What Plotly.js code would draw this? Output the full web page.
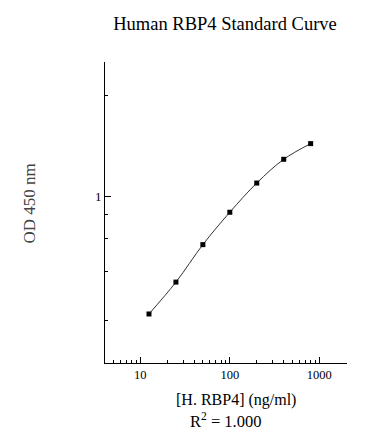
<!DOCTYPE html>
<html>
<head>
<meta charset="utf-8">
<script src="https://cdn.plot.ly/plotly-3.0.1.min.js"></script>
<style>html,body{margin:0;padding:0;background:#fff;}#chart{width:388px;height:444px;}</style>
</head>
<body>
<div id="chart"></div>
<script>
// Data
const concentrations = [12.5, 25, 50, 100, 200, 400, 800];      // ng/ml
const odValues       = [0.232, 0.345, 0.550, 0.823, 1.184, 1.591, 1.934];
const xTickVals  = [10, 100, 1000];
const xTickText  = ["10", "100", "1000"];
const xMinorVals = [5, 6, 7, 8, 9, 20, 30, 40, 50, 60, 70, 80, 90, 200, 300, 400, 500, 600, 700, 800, 900, 2000];
const yTickVals  = [1];
const yTickText  = ["1"];
const yMinorVals = [0.215, 0.395, 0.59, 0.8, 3.5];

const serif = "Liberation Serif, Times New Roman, serif";

const trace = {
  x: concentrations,
  y: odValues,
  type: "scatter",
  mode: "lines+markers",
  line: {shape: "spline", color: "#333", width: 1},
  marker: {symbol: "square", size: 5, color: "#000"},
  hoverinfo: "skip"
};

const layout = {
  width: 388, height: 444,
  margin: {l: 105, r: 41, t: 62, b: 81, pad: 0},
  paper_bgcolor: "#fff", plot_bgcolor: "#fff",
  showlegend: false,
  font: {family: serif, color: "#000", size: 12},
  title: {
    text: "Human RBP4 Standard Curve",
    font: {family: serif, size: 18.5, color: "#000"},
    xref: "container", x: 225/388, xanchor: "center",
    yref: "container", y: 1 - 24/444, yanchor: "middle"
  },
  xaxis: {
    type: "log",
    range: [0.6056, 3.309],
    showline: true, linecolor: "#000", linewidth: 1,
    showgrid: false, zeroline: false,
    tickmode: "array", tickvals: xTickVals, ticktext: xTickText,
    ticks: "inside", ticklen: 6, tickcolor: "#000", tickwidth: 1,
    tickfont: {family: serif, size: 12.5, color: "#000"},
    minor: {tickmode: "array", tickvals: xMinorVals, ticks: "inside", ticklen: 3, tickcolor: "#000", tickwidth: 1, showgrid: false}
  },
  yaxis: {
    type: "log",
    range: [-0.8995, 0.7276],
    showline: true, linecolor: "#000", linewidth: 1,
    showgrid: false, zeroline: false,
    tickmode: "array", tickvals: yTickVals, ticktext: yTickText,
    ticks: "inside", ticklen: 6, tickcolor: "#000", tickwidth: 1,
    tickfont: {family: serif, size: 13, color: "#000"},
    minor: {tickmode: "array", tickvals: yMinorVals, ticks: "inside", ticklen: 3, tickcolor: "#000", tickwidth: 1, showgrid: false}
  },
  annotations: [
    {text: "[H. RBP4] (ng/ml)", xref: "paper", yref: "paper", x: 0.543, y: -0.124,
     xanchor: "center", yanchor: "middle", showarrow: false,
     font: {family: serif, size: 16, color: "#000"}},
    {text: "R<sup>2</sup> = 1.000", xref: "paper", yref: "paper", x: 0.499, y: -0.19,
     xanchor: "center", yanchor: "middle", showarrow: false,
     font: {family: serif, size: 16.5, color: "#000"}},
    {text: "OD 450 nm", xref: "paper", yref: "paper", x: -0.314, y: 0.53,
     xanchor: "center", yanchor: "middle", textangle: -90, showarrow: false,
     font: {family: serif, size: 17, color: "#444"}}
  ]
};

Plotly.newPlot("chart", [trace], layout, {staticPlot: true, displayModeBar: false});
</script>
</body>
</html>
